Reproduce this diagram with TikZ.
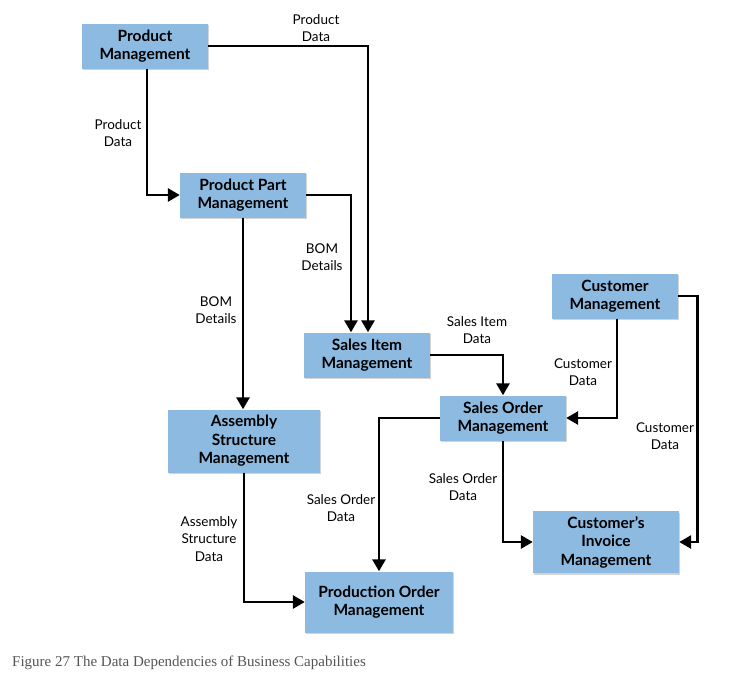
\documentclass[tikz,border=0pt]{standalone}
\usepackage{fontspec}
\setmainfont{Lato}
\newfontfamily\captionfont{Liberation Serif}
\usetikzlibrary{arrows.meta,shadows}
\definecolor{capblue}{RGB}{141,186,224}
\definecolor{capgray}{RGB}{85,85,85}

\begin{document}
\begin{tikzpicture}[x=1pt,y=-1pt,
  capbox/.style={fill=capblue,drop shadow={shadow xshift=1pt,shadow yshift=-1.5pt,opacity=0.35},
    minimum width=126pt,minimum height=45pt,align=center,inner sep=2pt,
    font=\fontsize{15.5}{18.5}\selectfont\bfseries},
  flow/.style={line width=2.8pt,-{Triangle[length=12pt,width=13pt]}},
  lbl/.style={align=center,inner sep=0pt,font=\fontsize{13.5}{17.5}\selectfont}]
\useasboundingbox (0,0) rectangle (739,686);
% capabilities
\node[capbox](pm) at (145,46){Product\\Management};
\node[capbox](pp) at (243,195){Product Part\\Management};
\node[capbox](si) at (367,355){Sales Item\\Management};
\node[capbox](cm) at (615,296){Customer\\Management};
\node[capbox](so) at (503,418){Sales Order\\Management};
\node[capbox,minimum width=152pt,minimum height=63pt](asm) at (244,441){Assembly\\Structure\\Management};
\node[capbox,minimum width=146pt,minimum height=62pt](ci) at (606,542){Customer’s\\Invoice\\Management};
\node[capbox,minimum width=148pt,minimum height=61pt](po) at (379,602){Production Order\\Management};
% dependencies
\draw[flow] (pm.east) -| ([xshift=1pt]si.north);
\draw[flow] ([xshift=2pt]pm.south) |- (pp.west);
\draw[flow] (pp.east) -| ([xshift=-16pt]si.north);
\draw[flow] (pp.south) -- (pp.south |- asm.north);
\draw[flow] (si.east) -| (so.north);
\draw[flow] ([xshift=2pt]cm.south) |- (so.east);
\draw[flow] (cm.east) -- ++(19,0) |- (ci.east);
\draw[flow] (so.west) -| (po.north);
\draw[flow] (so.south) |- (ci.west);
\draw[flow] (asm.south) |- (po.west);
% data labels
\node[lbl](pdtop) at (316,28){Product\\Data};
\node[lbl](pdleft) at (118,133){Product\\Data};
\node[lbl](bomright) at (322,257){BOM\\Details};
\node[lbl](bomdown) at (216,310){BOM\\Details};
\node[lbl](sidata) at (477,330){Sales Item\\Data};
\node[lbl](cdso) at (583,372){Customer\\Data};
\node[lbl](cdci) at (665,436){Customer\\Data};
\node[lbl](sdpo) at (341,508){Sales Order\\Data};
\node[lbl](sdci) at (463,487){Sales Order\\Data};
\node[lbl](asdata) at (209,539){Assembly\\Structure\\Data};
% caption
\node[anchor=west,inner sep=0pt,text=capgray,font=\captionfont\fontsize{15}{17}\selectfont](caption) at (12,663){Figure 27 The Data Dependencies of Business Capabilities};
\end{tikzpicture}
\end{document}
